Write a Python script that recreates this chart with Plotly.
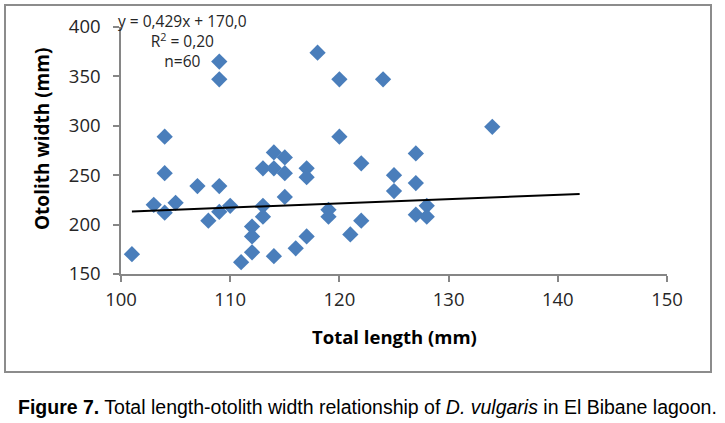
import plotly.graph_objects as go

# Data
total_length = [101, 103, 104, 104, 104, 105, 107, 108, 109, 109, 109, 109, 110, 111,
                112, 112, 112, 113, 113, 113, 114, 114, 114, 115, 115, 115, 116, 117,
                117, 117, 118, 119, 119, 120, 120, 121, 122, 122, 124, 125, 125, 127,
                127, 127, 128, 128, 134]
otolith_width = [170, 220, 289, 252, 212, 222, 239, 204, 365, 347, 239, 213, 219, 162,
                 198, 188, 172, 257, 219, 208, 273, 257, 168, 268, 252, 228, 176, 257,
                 248, 188, 374, 215, 208, 347, 289, 190, 262, 204, 347, 250, 234, 272,
                 242, 210, 219, 208, 299]

slope = 0.429
intercept = 170.0
trend_x = [101, 142]
trend_y = [slope * v + intercept for v in trend_x]

x_ticks = [100, 110, 120, 130, 140, 150]
y_ticks = [150, 200, 250, 300, 350, 400]

W, H = 725, 423
L, R, T, B = 121, 667, 27, 274  # plot area in pixels

def px(x):
    return (x - L) / (R - L)

def py(y):
    return (B - y) / (B - T)

fig = go.Figure()
fig.add_trace(go.Scatter(
    x=total_length, y=otolith_width, mode="markers",
    marker=dict(symbol="diamond", size=12.5, color="#4a7ebb", line=dict(width=0)),
    showlegend=False, hoverinfo="x+y"))
fig.add_trace(go.Scatter(
    x=trend_x, y=trend_y, mode="lines",
    line=dict(color="black", width=2), showlegend=False, hoverinfo="skip"))

axis_common = dict(showgrid=False, zeroline=False, showline=True, linecolor="#868686",
                   linewidth=1.5, ticks="outside", tickcolor="#868686", ticklen=6,
                   tickwidth=1.5, tickfont=dict(family="Open Sans", size=18.5, color="#262626"))

fig.update_xaxes(range=[100, 150], tickvals=x_ticks, ticklabelstandoff=2, **axis_common)
fig.update_yaxes(range=[150, 400], tickvals=y_ticks, ticklabelstandoff=9, **axis_common)

def note(text, x, y, size, family="Open Sans", angle=0, color="#262626"):
    return dict(text=text, xref="paper", yref="paper", x=px(x), y=py(y),
                xanchor="center", yanchor="middle", showarrow=False, textangle=angle,
                align="center", font=dict(family=family, size=size, color=color))

fig.update_layout(
    width=W, height=H,
    margin=dict(l=L, r=W - R, t=T, b=H - B, autoexpand=False),
    paper_bgcolor="white", plot_bgcolor="white",
    shapes=[dict(type="rect", xref="paper", yref="paper",
                 x0=px(5), x1=px(711), y0=py(372), y1=py(5),
                 line=dict(color="#8c8c8c", width=2), layer="below")],
    annotations=[
        note("<b>Total length (mm)</b>", 394, 336, 18.5, color="black"),
        note("<b>Otolith width (mm)</b>", 42, 139, 19, angle=-90, color="black"),
        note("y = 0,429x + 170,0<br>R<sup>2</sup> = 0,20<br>n=60", 182, 41, 15.5),
        note("<b>Figure 7.</b> Total length-otolith width relationship of <i>D. vulgaris</i> in El Bibane lagoon.",
             367, 407, 19.5, family="Liberation Sans", color="black"),
    ],
)

fig.write_html("out.html", config={"displayModeBar": False},
               post_script="document.body.style.margin='0';")
